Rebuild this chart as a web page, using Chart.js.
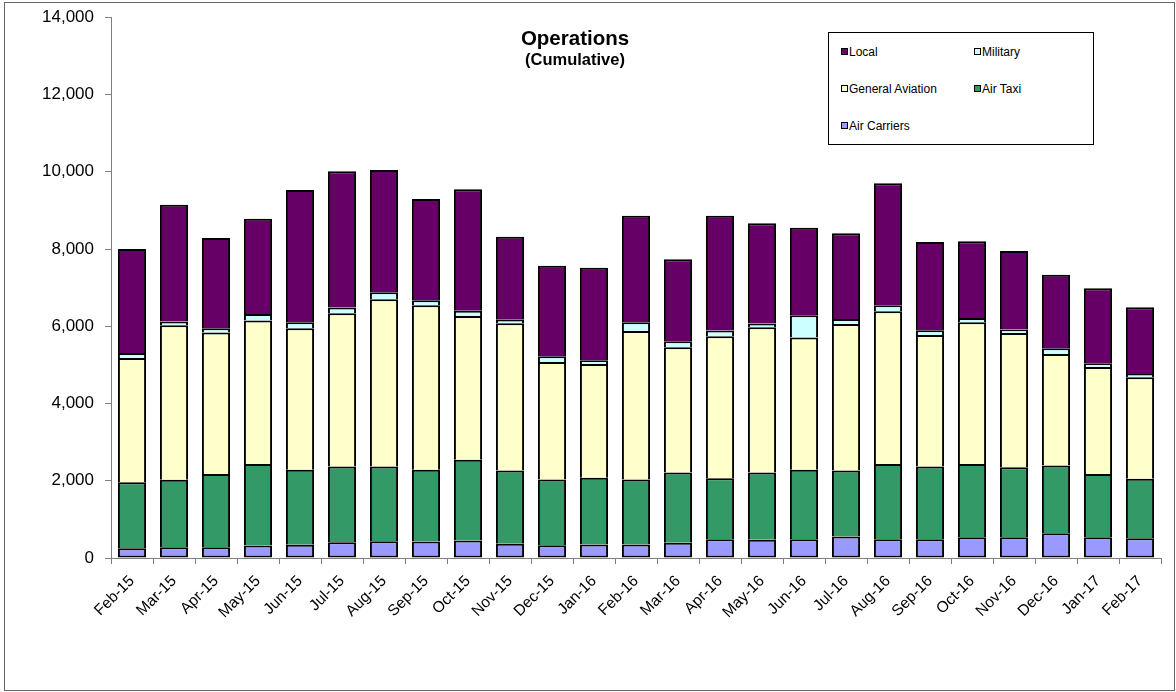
<!DOCTYPE html>
<html>
<head>
<meta charset="utf-8">
<script src="https://cdn.jsdelivr.net/npm/chart.js@4.4.0/dist/chart.umd.min.js"></script>
<style>
  html, body { margin: 0; padding: 0; background: #fff; }
  #wrap { position: relative; width: 1176px; height: 692px; font-family: "Liberation Sans", Arial, sans-serif; }
  #c { position: absolute; left: 0; top: 0; }
  .title { position: absolute; left: 475px; width: 200px; text-align: center; font-weight: bold; color: #000; white-space: nowrap; }
  #legend { position: absolute; left: 828px; top: 32px; width: 264px; height: 111px; border: 1px solid #000; background: #fff; }
  .li { position: absolute; font-size: 12px; color: #000; white-space: nowrap; line-height: 14px; }
  .sw { position: absolute; width: 5px; height: 5px; border: 1.5px solid #000; }
</style>
</head>
<body>
<div id="wrap">
  <canvas id="c" width="1176" height="692"></canvas>
  <div class="title" style="top:26px;font-size:20.5px;">Operations</div>
  <div class="title" style="top:50px;font-size:16.5px;">(Cumulative)</div>
  <div id="legend"></div>
</div>
<script>
const categories = ["Feb-15","Mar-15","Apr-15","May-15","Jun-15","Jul-15","Aug-15","Sep-15","Oct-15","Nov-15","Dec-15","Jan-16","Feb-16","Mar-16","Apr-16","May-16","Jun-16","Jul-16","Aug-16","Sep-16","Oct-16","Nov-16","Dec-16","Jan-17","Feb-17"];
const airCarriers = [254, 280, 280, 323, 341, 410, 436, 427, 453, 367, 332, 349, 349, 393, 487, 470, 487, 556, 487, 487, 539, 539, 643, 539, 513];
const airTaxi = [1708, 1743, 1898, 2114, 1941, 1958, 1932, 1855, 2088, 1898, 1700, 1726, 1683, 1820, 1579, 1743, 1795, 1709, 1950, 1881, 1898, 1812, 1751, 1639, 1536];
const generalAviation = [3219, 4003, 3658, 3710, 3666, 3968, 4331, 4261, 3726, 3812, 3045, 2950, 3847, 3243, 3675, 3761, 3425, 3795, 3951, 3408, 3666, 3476, 2890, 2769, 2631];
const military = [129, 95, 112, 172, 155, 147, 181, 130, 138, 95, 146, 95, 224, 156, 147, 95, 578, 130, 155, 120, 112, 87, 147, 95, 86];
const local = [2690, 3028, 2338, 2467, 3425, 3528, 3166, 2622, 3140, 2148, 2347, 2398, 2761, 2122, 2976, 2597, 2268, 2217, 3158, 2286, 1985, 2036, 1906, 1941, 1725];
const yTicks = [0, 2000, 4000, 6000, 8000, 10000, 12000, 14000];

const seriesNames = ["Air Carriers", "Air Taxi", "General Aviation", "Military", "Local"];
const seriesColors = ["#9999FF", "#339966", "#FFFFCC", "#CCFFFF", "#660066"];
const seriesData = [airCarriers, airTaxi, generalAviation, military, local];

const legendLayout = [
  { name: "Local", col: 0, row: 0 },
  { name: "Military", col: 1, row: 0 },
  { name: "General Aviation", col: 0, row: 1 },
  { name: "Air Taxi", col: 1, row: 1 },
  { name: "Air Carriers", col: 0, row: 2 }
];
const legendEl = document.getElementById('legend');
legendLayout.forEach(it => {
  const idx = seriesNames.indexOf(it.name);
  const x0 = it.col === 0 ? 12 : 145;
  const yc = 18.5 + it.row * 37.3;
  const sw = document.createElement('div');
  sw.className = 'sw';
  sw.style.left = x0 + 'px';
  sw.style.top = (yc - 4) + 'px';
  sw.style.background = seriesColors[idx];
  legendEl.appendChild(sw);
  const tx = document.createElement('div');
  tx.className = 'li';
  tx.style.left = (x0 + 8) + 'px';
  tx.style.top = (yc - 7) + 'px';
  tx.textContent = it.name;
  legendEl.appendChild(tx);
});

const framePlugin = {
  id: 'frame',
  beforeDraw(chart) {
    const ctx = chart.ctx;
    ctx.save();
    ctx.fillStyle = '#fff';
    ctx.fillRect(0, 0, chart.width, chart.height);
    ctx.strokeStyle = '#666';
    ctx.lineWidth = 1;
    ctx.strokeRect(4.5, 2.5, 1170, 688);
    ctx.restore();
  }
};

const datasets = seriesNames.map((n, i) => ({
  label: n,
  data: seriesData[i],
  backgroundColor: seriesColors[i],
  borderColor: '#000',
  borderWidth: 2,
  borderSkipped: i === 0 ? false : 'start',
  barPercentage: 0.67,
  categoryPercentage: 1.0
}));

new Chart(document.getElementById('c'), {
  type: 'bar',
  data: { labels: categories, datasets },
  plugins: [framePlugin],
  options: {
    responsive: false,
    animation: false,
    devicePixelRatio: 1,
    layout: { padding: { left: 0, right: 15, top: 17.3, bottom: 0 } },
    plugins: { legend: { display: false }, title: { display: false }, tooltip: { enabled: false } },
    scales: {
      x: {
        stacked: true,
        grid: { display: true, drawOnChartArea: false, drawTicks: true, tickLength: 6, color: '#808080', offset: true },
        border: { display: true, color: '#808080', width: 1 },
        ticks: { autoSkip: false, minRotation: 45, maxRotation: 45, padding: 8, color: '#000',
                 font: { family: '"Liberation Sans", Arial, sans-serif', size: 15.5 } },
        afterFit(scale) { scale.height = 134; scale.paddingLeft = 0; scale.paddingRight = 0; }
      },
      y: {
        stacked: true,
        min: 0, max: 14000,
        afterBuildTicks(scale) { scale.ticks = yTicks.map(v => ({ value: v })); },
        grid: { display: true, drawOnChartArea: false, drawTicks: true, tickLength: 6, color: '#808080' },
        border: { display: true, color: '#808080', width: 1 },
        ticks: { padding: 11, color: '#000',
                 font: { family: '"Liberation Sans", Arial, sans-serif', size: 17 },
                 callback: v => Number(v).toLocaleString('en-US') },
        afterFit(scale) { scale.width = 111; scale.paddingTop = 0; scale.paddingBottom = 0; }
      }
    }
  }
});
</script>
</body>
</html>
